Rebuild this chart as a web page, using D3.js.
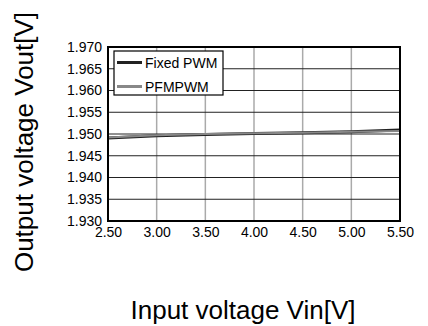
<!DOCTYPE html>
<html><head><meta charset="utf-8">
<script src="https://cdn.jsdelivr.net/npm/d3@7"></script>
<style>body{margin:0;background:#fff}svg{display:block}text{font-family:"Liberation Sans",Arial,sans-serif}</style>
</head><body>
<script>
const vin = [2.5, 3.0, 3.5, 4.0, 4.5, 5.0, 5.5];
const fixedPWM = [1.9491, 1.9496, 1.9499, 1.9501, 1.9503, 1.9505, 1.9509];
const pfmPWM = [1.9492, 1.9497, 1.9500, 1.9502, 1.9503, 1.9505, 1.9507];
const xTicks = [2.5, 3.0, 3.5, 4.0, 4.5, 5.0, 5.5];
const yTicks = [1.930, 1.935, 1.940, 1.945, 1.950, 1.955, 1.960, 1.965, 1.970];
const seriesNames = ["Fixed PWM", "PFMPWM"];

const W = 428, H = 326;
const m = {left: 108, right: 28, top: 47, bottom: 105};
const svg = d3.select("body").append("svg").attr("width", W).attr("height", H);
const x = d3.scaleLinear().domain([2.5, 5.5]).range([m.left, W - m.right]);
const y = d3.scaleLinear().domain([1.930, 1.970]).range([H - m.bottom, m.top]);

// vertical grid
svg.append("g").selectAll("line").data(xTicks.slice(1, -1)).join("line")
  .attr("x1", d => x(d)).attr("x2", d => x(d)).attr("y1", y(1.970)).attr("y2", y(1.930))
  .attr("stroke", "#aaa").attr("stroke-width", 1.5);
// horizontal grid
svg.append("g").selectAll("line").data(yTicks.slice(1, -1)).join("line")
  .attr("x1", x(2.5)).attr("x2", x(5.5)).attr("y1", d => y(d)).attr("y2", d => y(d))
  .attr("stroke", "#222").attr("stroke-width", 1);

// axes labels
const xAxis = d3.axisBottom(x).tickValues(xTicks).tickFormat(d3.format(".2f")).tickSize(0).tickPadding(6);
const gx = svg.append("g").attr("transform", `translate(0,${y(1.930)})`).call(xAxis);
gx.select(".domain").remove();
gx.selectAll("text").attr("font-size", 14).attr("fill", "#000").attr("font-family", "Liberation Sans, Arial, sans-serif");

const yAxis = d3.axisLeft(y).tickValues(yTicks).tickFormat(d3.format(".3f")).tickSize(0).tickPadding(6);
const gy = svg.append("g").attr("transform", `translate(${x(2.5)},0)`).call(yAxis);
gy.select(".domain").remove();
gy.selectAll("text").attr("font-size", 14).attr("fill", "#000").attr("font-family", "Liberation Sans, Arial, sans-serif");

// data lines
const line = d3.line().x((d, i) => x(vin[i])).y(d => y(d));
svg.append("path").datum(fixedPWM).attr("d", line).attr("fill", "none").attr("stroke", "#222").attr("stroke-width", 3);
svg.append("path").datum(pfmPWM).attr("d", line).attr("fill", "none").attr("stroke", "#888").attr("stroke-width", 2);

// frame
svg.append("rect").attr("x", x(2.5)).attr("y", y(1.970)).attr("width", x(5.5) - x(2.5)).attr("height", y(1.930) - y(1.970))
  .attr("fill", "none").attr("stroke", "#000").attr("stroke-width", 2);

// legend
const lg = svg.append("g");
lg.append("rect").attr("x", 114).attr("y", 51).attr("width", 109).attr("height", 44)
  .attr("fill", "#fff").attr("stroke", "#000").attr("stroke-width", 1.2);
const colors = ["#222", "#888"];
seriesNames.forEach((n, i) => {
  const yy = 62.5 + i * 24;
  lg.append("line").attr("x1", 117).attr("x2", 142).attr("y1", yy).attr("y2", yy)
    .attr("stroke", colors[i]).attr("stroke-width", 3);
  lg.append("text").attr("x", 145).attr("y", yy + 5).attr("font-size", 14).text(n);
});

// titles
svg.append("text").attr("x", 243).attr("y", 319).attr("text-anchor", "middle").attr("font-size", 26).text("Input voltage Vin[V]");
svg.append("text").attr("transform", "translate(33,142) rotate(-90)").attr("text-anchor", "middle").attr("font-size", 26).text("Output voltage Vout[V]");
</script>
</body></html>
